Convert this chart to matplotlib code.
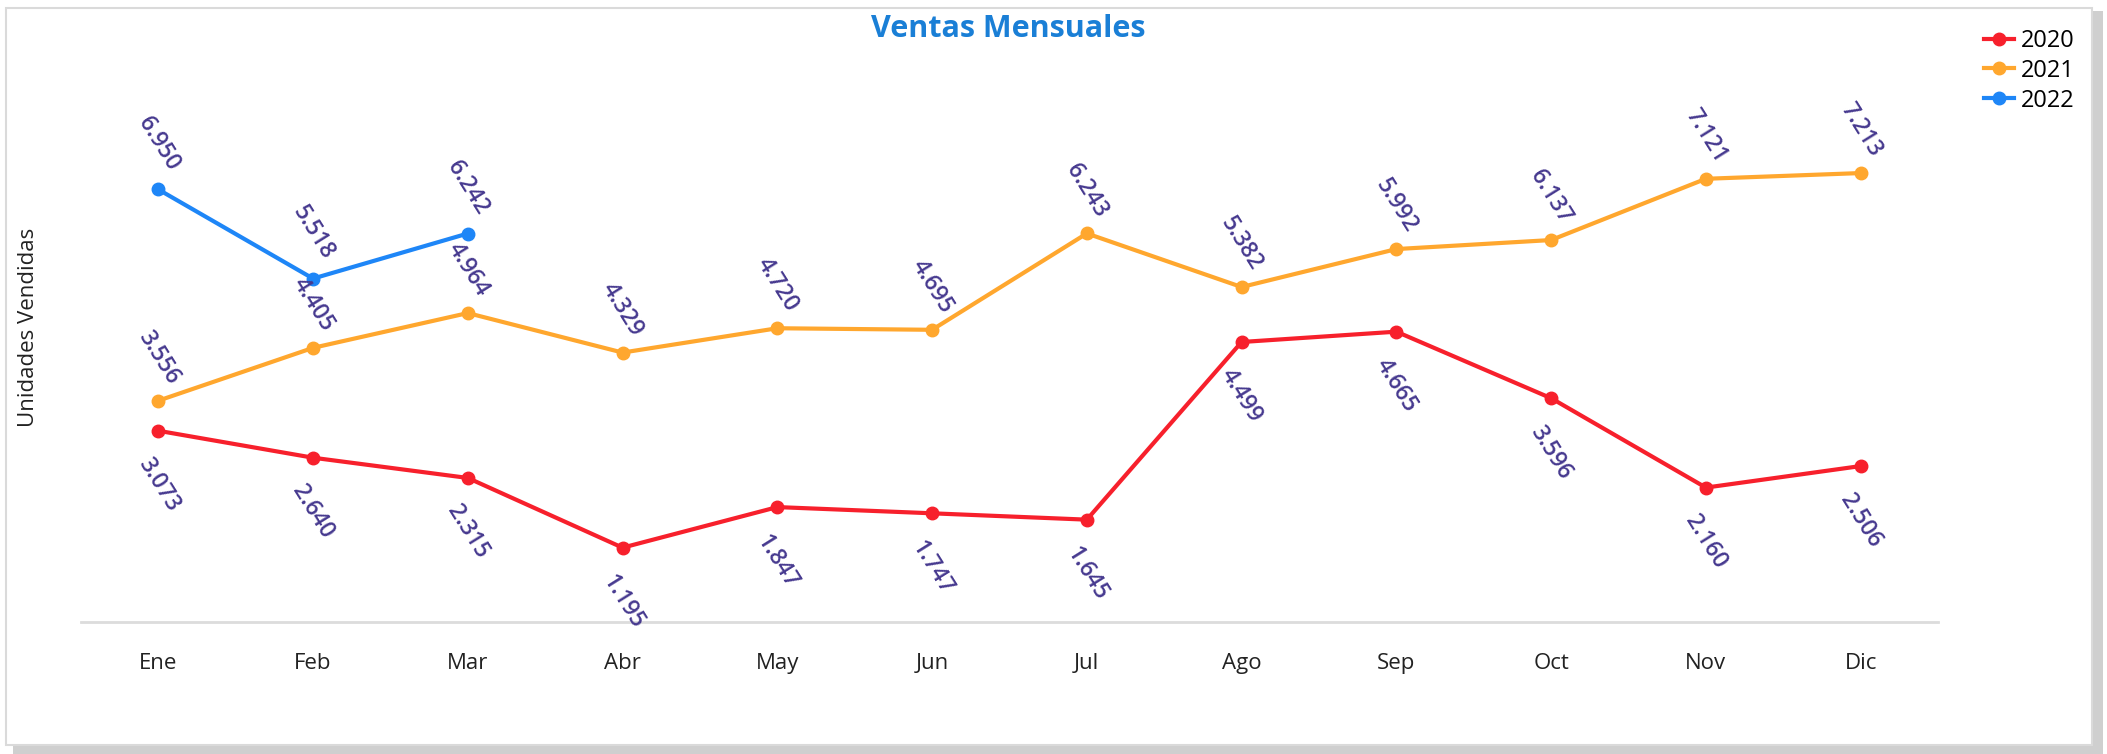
import matplotlib.pyplot as plt
from matplotlib.patches import Rectangle
from matplotlib.lines import Line2D

plt.rcParams['font.family'] = ['Open Sans', 'DejaVu Sans']

meses = ['Ene', 'Feb', 'Mar', 'Abr', 'May', 'Jun', 'Jul', 'Ago', 'Sep', 'Oct', 'Nov', 'Dic']
ventas_2020 = [3.073, 2.640, 2.315, 1.195, 1.847, 1.747, 1.645, 4.499, 4.665, 3.596, 2.160, 2.506]
ventas_2021 = [3.556, 4.405, 4.964, 4.329, 4.720, 4.695, 6.243, 5.382, 5.992, 6.137, 7.121, 7.213]
ventas_2022 = [6.950, 5.518, 6.242]

series = [
    ('2020', ventas_2020, '#f7202c', -39),   # label below the point
    ('2021', ventas_2021, '#ffa72e', 31),
    ('2022', ventas_2022, '#1e86f7', 33),
]
label_color = '#46398f'

fig = plt.figure(figsize=(21.07, 7.54), dpi=100)

# card border with a soft shadow
fig.patches.append(Rectangle((0.006, 0.0), 0.992, 0.985, transform=fig.transFigure,
                             facecolor='#cfcfcf', edgecolor='none', zorder=-3))
fig.patches.append(Rectangle((0.003, 0.012), 0.990, 0.978, transform=fig.transFigure,
                             facecolor='white', edgecolor='#dadada', lw=1.5, zorder=-2))

ax = fig.add_axes([0.0384, 0.175, 0.8814, 0.743])
ax.set_facecolor('none')

for name, vals, col, off in series:
    x = list(range(len(vals)))
    ax.plot(x, vals, color=col, lw=3, marker='o', ms=9, label=name)
    for xi, v in zip(x, vals):
        ax.annotate(f'{v:.3f}', (xi, v), xytext=(0, off), textcoords='offset points',
                    rotation=-58, ha='center', va='center', fontsize=16.5,
                    fontweight='semibold', color=label_color, annotation_clip=False)

ax.set_xlim(-0.5, 11.5)
ax.set_ylim(0, 9)
ax.set_xticks(range(12))
ax.set_xticklabels(meses, fontsize=16, color='#222222')
ax.tick_params(axis='x', length=0, pad=22)
ax.set_yticks([])
for s in ['top', 'right', 'left']:
    ax.spines[s].set_visible(False)
ax.spines['bottom'].set_color('#dcdcdc')
ax.spines['bottom'].set_linewidth(2)

fig.text(0.0135, 0.566, 'Unidades Vendidas', rotation=90, ha='center', va='center',
         fontsize=16, color='#222222')
fig.text(0.4785, 0.962, 'Ventas Mensuales', ha='center', va='center',
         fontsize=22, fontweight='bold', color='#1a7fd6')

handles = [Line2D([0], [0], color=c, lw=3, marker='o', ms=9) for _, _, c, _ in series]
fig.legend(handles, [n for n, _, _, _ in series], loc='upper right',
           bbox_to_anchor=(0.995, 0.99), frameon=False, fontsize=17,
           handlelength=1.3, handletextpad=0.3, labelspacing=0.25)

fig.savefig('out.png', dpi=100)
